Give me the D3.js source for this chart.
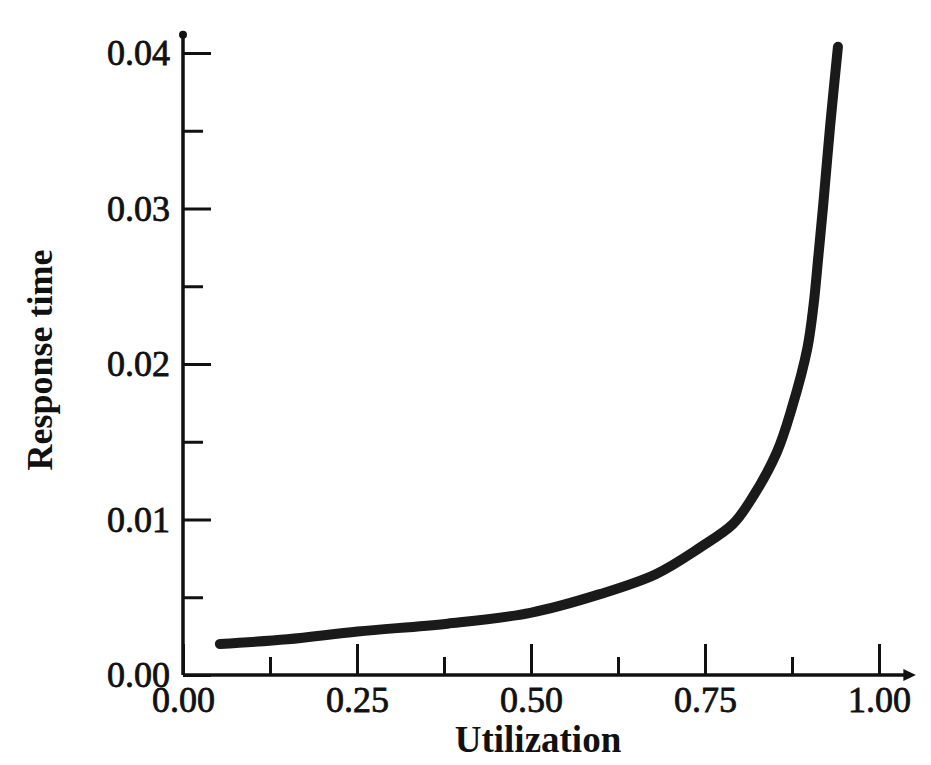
<!DOCTYPE html>
<html>
<head>
<meta charset="utf-8">
<script src="https://cdn.jsdelivr.net/npm/d3@7"></script>
<style>
  body { margin: 0; background: #fff; }
  text { font-family: "Liberation Serif", "Times New Roman", serif; fill: #111; }
</style>
</head>
<body>
<script>
// values
var utilization = [0.053, 0.15, 0.251, 0.38, 0.499, 0.599, 0.68, 0.743, 0.79, 0.815, 0.853, 0.875, 0.897, 0.906, 0.913, 0.92, 0.93, 0.941];
var responseTime = [0.0020, 0.0023, 0.0028, 0.0033, 0.0040, 0.0052, 0.0065, 0.0082, 0.0097, 0.0112, 0.0143, 0.0172, 0.0210, 0.0238, 0.0270, 0.0303, 0.0354, 0.0404];
var xTicks = [0, 0.25, 0.5, 0.75, 1];
var xMinor = [0.125, 0.375, 0.625, 0.875];
var yTicks = [0, 0.01, 0.02, 0.03, 0.04];
var yMinor = [0.005, 0.015, 0.025, 0.035];

var width = 931, height = 765;

var x = d3.scaleLinear().domain([0, 1]).range([183, 879]);
var y = d3.scaleLinear().domain([0, 0.04]).range([675, 53]);

var svg = d3.select("body").append("svg")
    .attr("width", width)
    .attr("height", height);

// axis lines (drawn by hand so they can run past the last tick)
svg.append("line")
    .attr("x1", x(0)).attr("x2", x(0))
    .attr("y1", y(0)).attr("y2", y(0.0413))
    .attr("stroke", "#111").attr("stroke-width", 3.5);
svg.append("circle")
    .attr("cx", x(0)).attr("cy", y(0.0413) + 2).attr("r", 4).attr("fill", "#111");
svg.append("line")
    .attr("x1", x(0)).attr("x2", x(1.04))
    .attr("y1", y(0)).attr("y2", y(0))
    .attr("stroke", "#111").attr("stroke-width", 3.5);
svg.append("path")
    .attr("d", "M" + x(1.035) + "," + (y(0) - 6) + "L" + x(1.053) + "," + y(0) + "L" + x(1.035) + "," + (y(0) + 6) + "Z")
    .attr("fill", "#111");

svg.append("g")
    .attr("transform", "translate(0," + y(0) + ")")
    .call(d3.axisBottom(x).tickValues(xTicks).tickSize(-31).tickPadding(11)
      .tickFormat(d3.format(".2f")));
svg.append("g")
    .attr("transform", "translate(0," + y(0) + ")")
    .call(d3.axisBottom(x).tickValues(xMinor).tickSize(-18).tickFormat(""));

svg.append("g")
    .attr("transform", "translate(" + x(0) + ",0)")
    .call(d3.axisLeft(y).tickValues(yTicks).tickSize(-28).tickPadding(13)
      .tickFormat(d3.format(".2f")));
svg.append("g")
    .attr("transform", "translate(" + x(0) + ",0)")
    .call(d3.axisLeft(y).tickValues(yMinor).tickSize(-20).tickFormat(""));

svg.selectAll(".domain").remove();
svg.selectAll(".tick line").attr("stroke", "#111").attr("stroke-width", 3);
svg.selectAll(".tick text")
    .style("font-size", "36px")
    .attr("fill", "#111")
    .attr("stroke", "#111")
    .attr("stroke-width", 0.8);

// curve
var line = d3.line()
    .x(function(d, i) { return x(utilization[i]); })
    .y(function(d, i) { return y(responseTime[i]); })
    .curve(d3.curveCatmullRom);

svg.append("path")
    .datum(utilization)
    .attr("d", line)
    .attr("fill", "none")
    .attr("stroke", "#1a1a1a")
    .attr("stroke-width", 10)
    .attr("stroke-linecap", "round");

// axis titles
svg.append("text")
    .attr("x", 538)
    .attr("y", 752)
    .attr("text-anchor", "middle")
    .style("font-size", "37px")
    .style("font-weight", "bold")
    .text("Utilization");

svg.append("text")
    .attr("transform", "translate(52,360)rotate(-90)")
    .attr("text-anchor", "middle")
    .style("font-size", "36px")
    .style("font-weight", "bold")
    .text("Response time");
</script>
</body>
</html>
